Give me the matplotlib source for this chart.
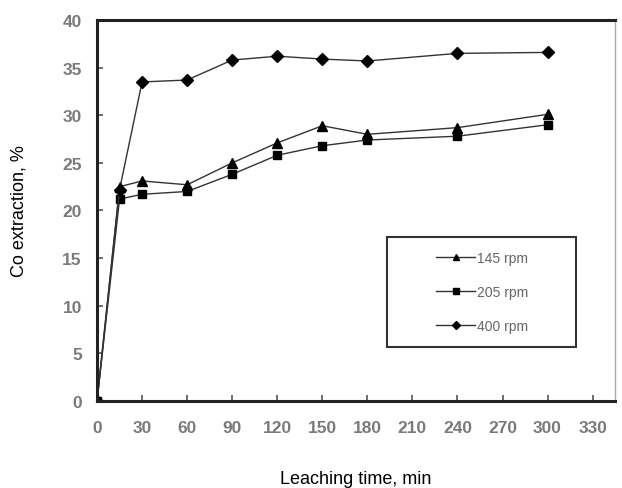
import matplotlib
matplotlib.use('Agg')
import matplotlib.pyplot as plt
from matplotlib.patches import Rectangle

# ======================
# DATA
# ======================

time_min = [0, 15, 30, 60, 90, 120, 150, 180, 240, 300]
rpm_145 = [0, 22.5, 23.1, 22.7, 25.0, 27.1, 28.9, 28.0, 28.7, 30.1]
rpm_205 = [0, 21.2, 21.7, 22.0, 23.8, 25.8, 26.8, 27.4, 27.8, 29.0]
rpm_400 = [0, 22.2, 33.5, 33.7, 35.8, 36.2, 35.9, 35.7, 36.5, 36.6]

x_ticks = list(range(0, 331, 30))
y_ticks = list(range(0, 41, 5))

# ======================
# PLOT
# ======================

plt.rcParams['font.family'] = ['Liberation Sans', 'DejaVu Sans']

fig = plt.figure(figsize=(6.22, 4.89), dpi=100)
ax = fig.add_axes([0.156, 0.178, 0.833, 0.779])

line_color = '#333333'
ax.plot(time_min, rpm_145, color=line_color, lw=1.0, marker='^', ms=7,
        mfc='black', mec='black', label='145 rpm')
ax.plot(time_min, rpm_205, color=line_color, lw=1.0, marker='s', ms=6,
        mfc='black', mec='black', label='205 rpm')
ax.plot(time_min, rpm_400, color=line_color, lw=1.0, marker='D', ms=6,
        mfc='black', mec='black', label='400 rpm')

ax.set_xlim(0, 345)
ax.set_ylim(0, 40)
ax.set_xticks(x_ticks)
ax.set_yticks(y_ticks)
ax.tick_params(direction='in', length=4, width=1.2, colors='#555555',
               labelsize=12.5, labelcolor='#7a7a7a')
ax.tick_params(axis='x', pad=14)
ax.tick_params(axis='y', pad=11)
for lbl in ax.get_xticklabels() + ax.get_yticklabels():
    lbl.set_fontweight('bold')

for side in ['left', 'bottom', 'top']:
    ax.spines[side].set_linewidth(2.2)
    ax.spines[side].set_color('#222222')
ax.spines['right'].set_linewidth(1.0)
ax.spines['right'].set_color('#aaaaaa')

ax.set_xlabel('Leaching time, min', fontsize=13, labelpad=25)
ax.set_ylabel('Co extraction, %', fontsize=13, labelpad=25)

# legend box drawn by hand, entries placed inside it
box = Rectangle((0.56, 0.142), 0.365, 0.288, transform=ax.transAxes,
                fill=False, edgecolor='#333333', lw=1.5, zorder=5)
ax.add_patch(box)
leg = ax.legend(loc='center', bbox_to_anchor=(0.743, 0.286), frameon=False,
                fontsize=10, handlelength=2.8, handletextpad=0.1,
                markerscale=0.7, labelspacing=1.45)
for t in leg.get_texts():
    t.set_color('#666666')

plt.savefig('out.png', dpi=100)
